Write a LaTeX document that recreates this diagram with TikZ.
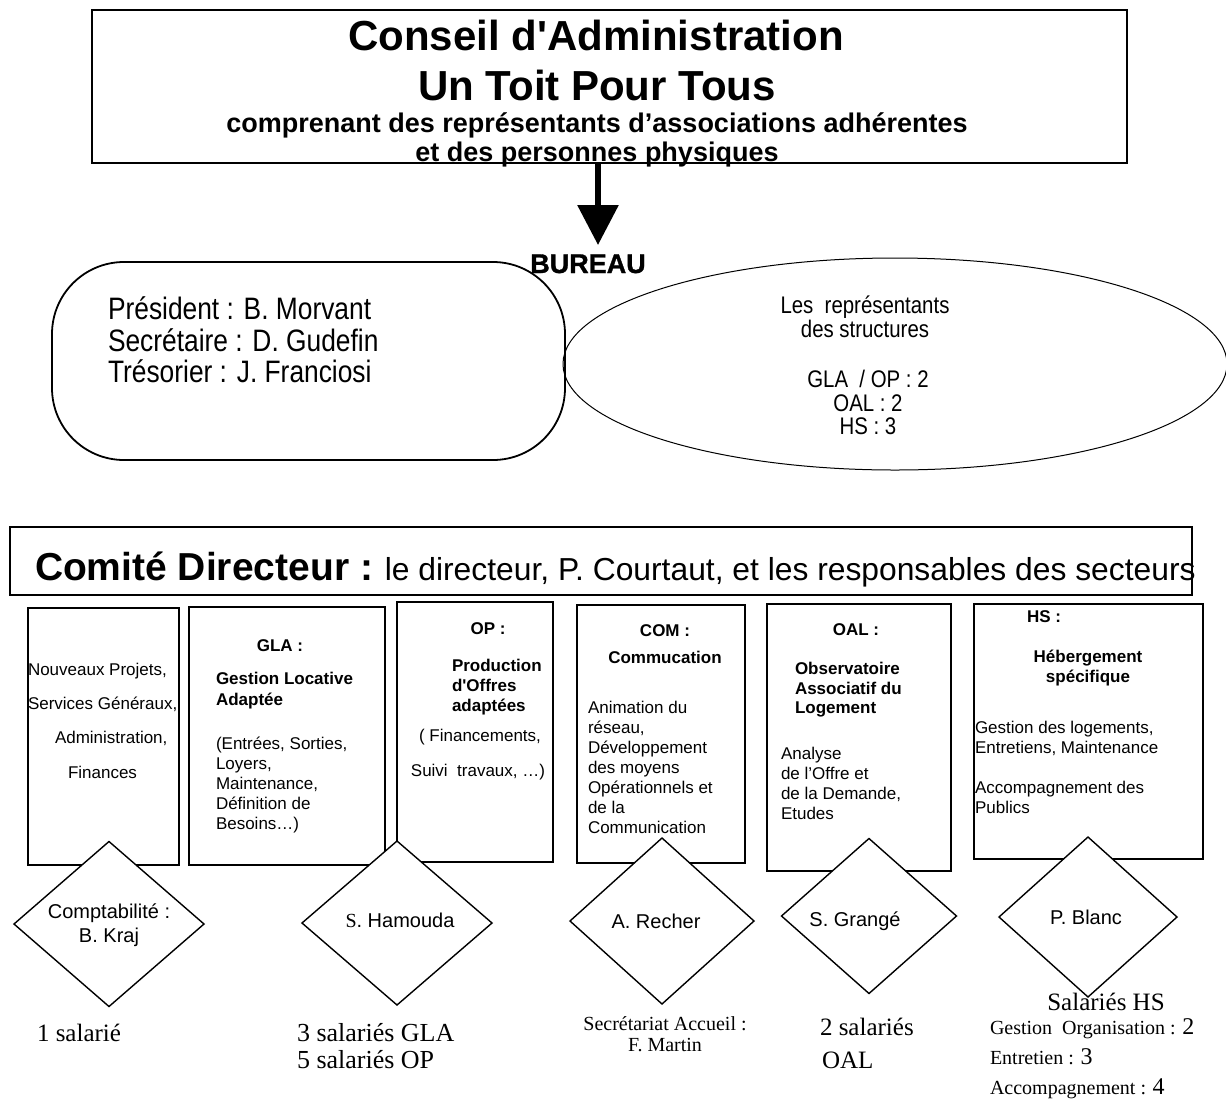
\documentclass[tikz,border=0pt]{standalone}
\usepackage{fontspec}
\setmainfont{Liberation Sans}[Ligatures=TeXOff]
\newfontfamily\tnr{Liberation Serif}
\newfontfamily\narrowsans[FakeStretch=0.85]{Liberation Sans}
\newfontfamily\heavysans[FakeBold=1.2]{Liberation Sans Bold}
\usetikzlibrary{shapes.geometric,arrows.meta}
\newcommand\setfs[1]{\fontsize{#1}{#1}\selectfont}
\begin{document}
\begin{tikzpicture}[x=1pt,y=-1pt,
  every node/.style={inner sep=0pt,outer sep=0pt},
  frame/.style={draw,line width=1.4pt,rectangle},
  dia/.style={draw,line width=1.4pt,diamond,fill=white},
  bl/.style={anchor=base west,font=\setfs{17}},
  bc/.style={anchor=base,font=\setfs{17}},
  bbl/.style={anchor=base west,font=\setfs{17}\bfseries},
  bbc/.style={anchor=base,font=\setfs{17}\bfseries},
  tm/.style={anchor=base west,font=\tnr\setfs{25}},
  dtxt/.style={font=\fontsize{20}{24}\selectfont,align=center},
  nar/.style={font=\narrowsans\setfs{31}},
  nars/.style={anchor=base,font=\narrowsans\setfs{24}},
]
\useasboundingbox (0,0) rectangle (1226,1109);

% ---- Conseil d'Administration
\node[frame,line width=2.2pt,minimum width=1035,minimum height=153] (ca) at (609.5,86.5) {};
\node[anchor=base,font=\setfs{42}\bfseries] (t1) at (596,50) {Conseil d'Administration};
\node[anchor=base,font=\setfs{42}\bfseries] (t2) at (597,100) {Un Toit Pour Tous};
\node[anchor=base,font=\setfs{27}\bfseries] (t3) at (597,132) {comprenant des représentants d’associations adhérentes};
\node[anchor=base,font=\setfs{27}\bfseries] (t4) at (597,161) {et des personnes physiques};

\coordinate (arrtip) at (598,245);
\draw[line width=6pt,-{Triangle[width=40pt,length=40pt]}] (ca.south -| arrtip) -- (arrtip);

\node[anchor=base,font=\heavysans\setfs{27}] (bureau) at (588,273) {BUREAU};

% ---- Bureau shapes
\node[draw,line width=1.8pt,rectangle,rounded corners=72pt,minimum width=513,minimum height=198] (stad) at (308.5,361) {};
\node[nar,anchor=base west] (p1) at (108,319) {Président : B. Morvant};
\node[nar,anchor=base west] (p2) at (108,351) {Secrétaire : D. Gudefin};
\node[nar,anchor=base west] (p3) at (108,382) {Trésorier : J. Franciosi};

\node[draw,line width=1pt,ellipse,minimum width=664,minimum height=212] (ell) at (895,364) {};
\node[nars] (r1) at (865,313) {Les\ \ représentants};
\node[nars] (r2) at (865,337) {des structures};
\node[nars] (r3) at (868,387) {GLA\ \ / OP : 2};
\node[nars] (r4) at (868,411) {OAL : 2};
\node[nars] (r5) at (868,434) {HS : 3};

% ---- Comite directeur
\node[frame,line width=1.5pt,minimum width=1182,minimum height=68] (cd) at (601,561) {};
\node[anchor=base west] (cdt) at (35,580) {{\setfs{39}\bfseries Comité Directeur :}{\setfs{31.8} le directeur, P. Courtaut, et les responsables des secteurs}};

% ---- Six boxes
\node[frame,minimum width=151,minimum height=257] (b1) at (103.5,736.5) {};
\node[frame,minimum width=196,minimum height=258] (b2) at (287,736) {};
\node[frame,minimum width=156,minimum height=260] (b3) at (475,732) {};
\node[frame,minimum width=168,minimum height=258] (b4) at (661,734) {};
\node[frame,minimum width=184,minimum height=267] (b5) at (859,737.5) {};
\node[frame,minimum width=229,minimum height=255] (b6) at (1088.5,731.5) {};

% box 1
\node[bl] (b1a) at (28,675) {Nouveaux Projets,};
\node[bl] (b1b) at (28,709) {Services Généraux,};
\node[bl] (b1c) at (55,743) {Administration,};
\node[bl] (b1d) at (68,778) {Finances};
% box 2
\node[bbc] (b2h) at (280,651) {GLA :};
\node[bbl] (b2a) at (216,684) {Gestion Locative};
\node[bbl] (b2b) at (216,705) {Adaptée};
\node[bl] (b2c) at (216,749) {(Entrées, Sorties,};
\node[bl] (b2d) at (216,769) {Loyers,};
\node[bl] (b2e) at (216,789) {Maintenance,};
\node[bl] (b2f) at (216,809) {Définition de};
\node[bl] (b2g) at (216,829) {Besoins…)};
% box 3
\node[bbc] (b3h) at (488,634) {OP :};
\node[bbl] (b3a) at (452,671) {Production};
\node[bbl] (b3b) at (452,691) {d'Offres};
\node[bbl] (b3c) at (452,711) {adaptées};
\node[bc] (b3d) at (480,741) {( Financements,};
\node[bc] (b3e) at (478,776) {Suivi\ \ travaux, …)};
% box 4
\node[bbc] (b4h) at (665,636) {COM :};
\node[bbc] (b4a) at (665,663) {Commucation};
\node[bl] (b4b) at (588,713) {Animation du};
\node[bl] (b4c) at (588,733) {réseau,};
\node[bl] (b4d) at (588,753) {Développement};
\node[bl] (b4e) at (588,773) {des moyens};
\node[bl] (b4f) at (588,793) {Opérationnels et};
\node[bl] (b4g) at (588,813) {de la};
\node[bl] (b4i) at (588,833) {Communication};
% box 5
\node[bbc] (b5h) at (856,635) {OAL :};
\node[bbl] (b5a) at (795,674) {Observatoire};
\node[bbl] (b5b) at (795,694) {Associatif du};
\node[bbl] (b5c) at (795,713) {Logement};
\node[bl] (b5d) at (781,759) {Analyse};
\node[bl] (b5e) at (781,779) {de l’Offre et};
\node[bl] (b5f) at (781,799) {de la Demande,};
\node[bl] (b5g) at (781,819) {Etudes};
% box 6
\node[bbl] (b6h) at (1027,622) {HS :};
\node[bbc] (b6a) at (1088,662) {Hébergement};
\node[bbc] (b6b) at (1088,682) {spécifique};
\node[bl] (b6c) at (975,733) {Gestion des logements,};
\node[bl] (b6d) at (975,753) {Entretiens, Maintenance};
\node[bl] (b6e) at (975,793) {Accompagnement des};
\node[bl] (b6f) at (975,813) {Publics};

% ---- Diamonds
\node[dia,minimum width=190,minimum height=165] (d1) at (109,924) {};
\node[dtxt] (d1t) at (109,925) {Comptabilité :\\B. Kraj};
\node[dia,minimum width=190,minimum height=164] (d2) at (397,923) {};
\node[dtxt] (d2t) at (400,920) {{\tnr S}. Hamouda};
\node[dia,minimum width=184,minimum height=166] (d3) at (662,921) {};
\node[dtxt] (d3t) at (656,921) {A. Recher};
\node[dia,minimum width=175,minimum height=155] (d4) at (869,916) {};
\node[dtxt] (d4t) at (855,921) {S. Grangé};
\node[dia,minimum width=178,minimum height=160] (d5) at (1088,917) {};
\node[dtxt] (d5t) at (1086,917) {P. Blanc};

% ---- Staff counts
\node[tm] (s1) at (37,1041) {1 salarié};
\node[tm,font=\tnr\setfs{26}] (s2a) at (297,1041) {3 salariés GLA};
\node[tm,font=\tnr\setfs{26}] (s2b) at (297,1068) {5 salariés OP};
\node[anchor=base,font=\tnr\setfs{20}] (s3a) at (665,1030) {Secrétariat Accueil :};
\node[anchor=base,font=\tnr\setfs{20}] (s3b) at (665,1051) {F. Martin};
\node[tm] (s4a) at (820,1035) {2 salariés};
\node[tm] (s4b) at (822,1068) {OAL};
\node[anchor=base,font=\tnr\setfs{25}] (s5h) at (1106,1010) {Salariés HS};
\node[anchor=base west,font=\tnr\setfs{20}] (s5a) at (990,1034) {Gestion\ \ Organisation : {\setfs{24}2}};
\node[anchor=base west,font=\tnr\setfs{20}] (s5b) at (990,1064) {Entretien : {\setfs{24}3}};
\node[anchor=base west,font=\tnr\setfs{20}] (s5c) at (990,1094) {Accompagnement : {\setfs{24}4}};
\end{tikzpicture}
\end{document}
